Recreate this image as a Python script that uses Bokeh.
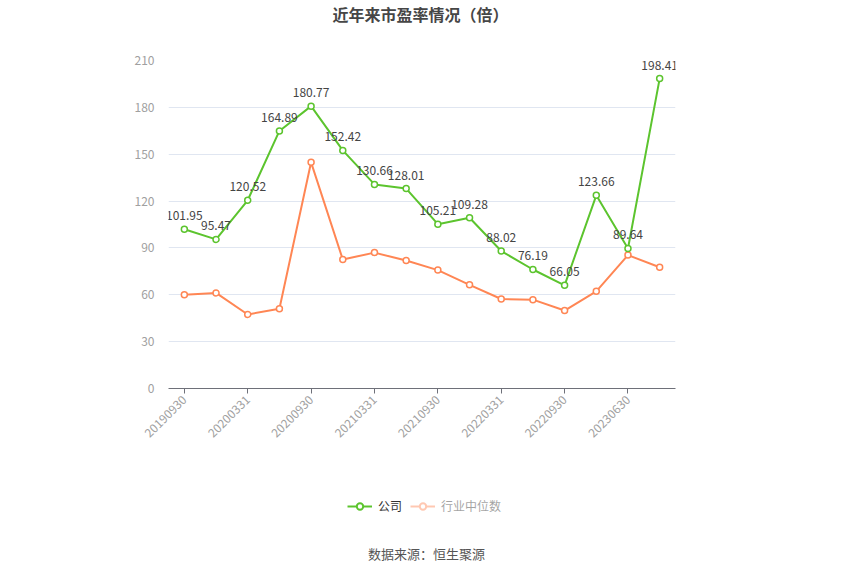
from bokeh.plotting import figure
from bokeh.layouts import column
from bokeh.models import (ColumnDataSource, Range1d, FixedTicker, Legend, LegendItem, Label)
from bokeh.core.properties import value
from bokeh.embed import file_html
from bokeh.resources import INLINE
import math

dates = ["20190930", "20191231", "20200331", "20200630", "20200930", "20201231",
         "20210331", "20210630", "20210930", "20211231", "20220331", "20220630",
         "20220930", "20230331", "20230630", "20230930"]
company = [101.95, 95.47, 120.52, 164.89, 180.77, 152.42, 130.66, 128.01,
           105.21, 109.28, 88.02, 76.19, 66.05, 123.66, 89.64, 198.41]
industry = [60.1, 61.2, 47.4, 51.1, 144.8, 82.6, 87.0, 81.9,
            75.8, 66.4, 57.3, 56.9, 49.9, 62.2, 85.4, 77.6]
y_ticks = [0, 30, 60, 90, 120, 150, 180, 210]
title_text = "近年来市盈率情况（倍）"
source_text = "数据来源：恒生聚源"
legend_names = ["公司", "行业中位数"]

FONT = "Noto Sans CJK SC"
GREEN = "#5cc42e"
ORANGE = "#ff8654"
W = 834
BL, BR = 168, 159


def strip(h):
    f = figure(width=W, height=h, output_backend="svg", toolbar_location=None,
               x_range=Range1d(0, 1), y_range=Range1d(0, 1),
               min_border_left=BL, min_border_right=BR,
               min_border_top=0, min_border_bottom=0)
    f.axis.visible = False
    f.grid.visible = False
    f.outline_line_color = None
    f.background_fill_color = "white"
    f.border_fill_color = "white"
    return f


# top strip: title
t = strip(50)
t.add_layout(Label(x=252, y=37, x_units="screen", y_units="screen", text=title_text,
                   text_align="center", text_baseline="middle", text_font=FONT,
                   text_font_size="16px", text_font_style="bold", text_color="#464646"))

idx = list(range(len(dates)))
src = ColumnDataSource(dict(x=idx, company=company, industry=industry,
                            lbl=["%.2f" % v for v in company]))

p = figure(width=W, height=405, output_backend="svg", toolbar_location=None,
           x_range=Range1d(-0.5, len(dates) - 0.5), y_range=Range1d(0, 210),
           min_border_left=BL, min_border_right=BR, min_border_top=10,
           min_border_bottom=67)
p.outline_line_color = None
p.background_fill_color = "white"
p.border_fill_color = "white"

# axes
p.xaxis.ticker = FixedTicker(ticks=idx[::2])
p.xaxis.major_label_overrides = {i: dates[i] for i in idx}
p.xaxis.major_label_orientation = math.pi / 4
p.xaxis.axis_line_color = "#6e7079"
p.xaxis.major_tick_line_color = "#6e7079"
p.xaxis.major_tick_out = 5
p.xaxis.major_tick_in = 0
p.xaxis.minor_tick_line_color = None
p.xaxis.major_label_text_color = "#a0a0a0"
p.xaxis.major_label_text_font = FONT
p.xaxis.major_label_text_font_size = "12px"
p.xaxis.major_label_standoff = 4

p.yaxis.ticker = FixedTicker(ticks=y_ticks)
p.yaxis.axis_line_color = None
p.yaxis.major_tick_line_color = None
p.yaxis.minor_tick_line_color = None
p.yaxis.major_label_text_color = "#a0a0a0"
p.yaxis.major_label_text_font = FONT
p.yaxis.major_label_text_font_size = "12px"
p.yaxis.major_label_standoff = 8

p.xgrid.grid_line_color = None
p.ygrid.grid_line_color = "#e0e6f1"
p.ygrid.ticker = FixedTicker(ticks=y_ticks)

# series
p.line("x", "industry", source=src, line_color=ORANGE, line_width=2)
p.scatter("x", "industry", source=src, size=6, line_color=ORANGE, line_width=1.5,
          fill_color="white")
p.line("x", "company", source=src, line_color=GREEN, line_width=2)
p.scatter("x", "company", source=src, size=6, line_color=GREEN, line_width=1.5,
          fill_color="white")
p.text("x", "company", text="lbl", source=src, text_align="center",
       text_baseline="bottom", y_offset=-9, text_font=value(FONT),
       text_font_size="12px", text_color="#444444")

# bottom strip: legend + source
q = strip(110)

dummy = ColumnDataSource(dict(x=[float("nan")], y=[float("nan")]))
g1 = q.line("x", "y", source=dummy, line_color=GREEN, line_width=2)
g1s = q.scatter("x", "y", source=dummy, size=11, line_color=GREEN, line_width=2,
                fill_color="white")
g2 = q.line("x", "y", source=dummy, line_color=ORANGE, line_width=2, muted=True,
            muted_alpha=1.0)
g2s = q.scatter("x", "y", source=dummy, size=11, line_color=ORANGE, line_width=2,
                fill_color="white", muted=True, muted_alpha=1.0)

lg = Legend(items=[LegendItem(label=legend_names[0], renderers=[g1, g1s]),
                   LegendItem(label=legend_names[1], renderers=[g2, g2s])],
            location=(179, 51), orientation="horizontal", click_policy="mute",
            inactive_fill_color="white", inactive_fill_alpha=0.55,
            label_text_font=FONT, label_text_font_size="12px",
            label_text_color="#333333", glyph_width=25, glyph_height=16,
            label_height=16, label_standoff=6, padding=0, margin=0, spacing=8,
            background_fill_alpha=0, border_line_color=None)
q.add_layout(lg, "center")

q.add_layout(Label(x=258, y=12, x_units="screen", y_units="screen", text=source_text,
                   text_align="center", text_baseline="middle", text_font=FONT,
                   text_font_size="13px", text_color="#555555"))

layout = column(t, p, q, spacing=0)
open("out.html", "w").write(file_html(layout, INLINE))
